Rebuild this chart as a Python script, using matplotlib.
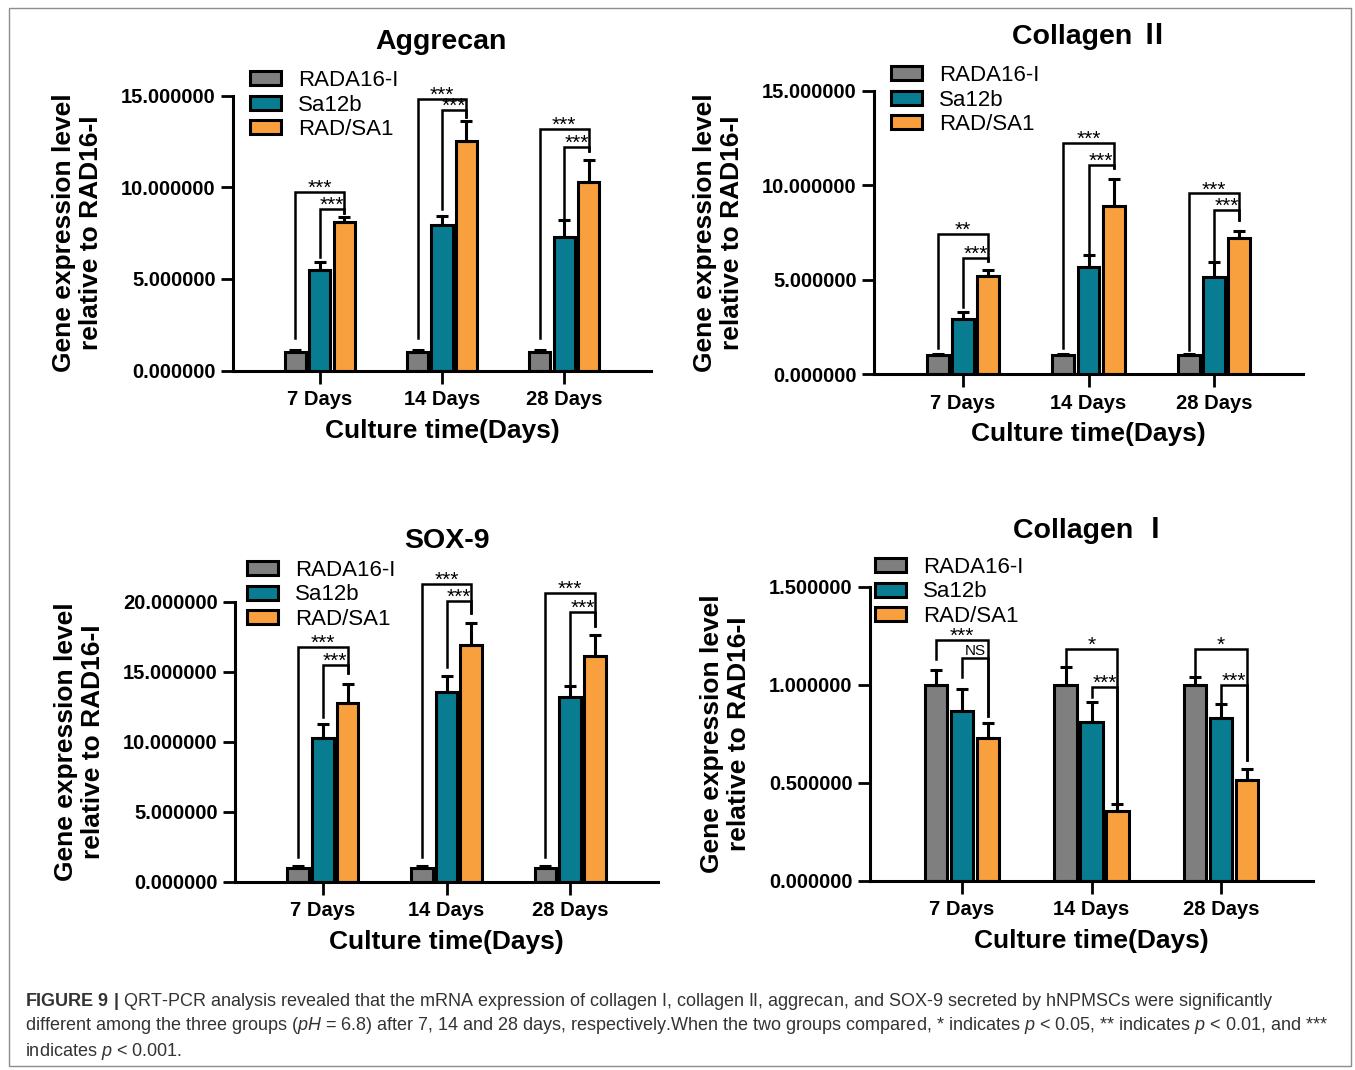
import matplotlib
matplotlib.use('Agg')
import matplotlib.pyplot as plt
import numpy as np
from matplotlib.patches import Rectangle

plt.rcParams['font.family'] = ['Liberation Sans', 'Noto Sans CJK SC', 'DejaVu Sans']
plt.rcParams['mathtext.fontset'] = 'custom'
plt.rcParams['mathtext.rm'] = 'Liberation Sans'
plt.rcParams['mathtext.it'] = 'Liberation Sans:italic'
plt.rcParams['mathtext.bf'] = 'Liberation Sans:bold'

W, H, DPI = 1355, 1070, 100

# ---------------- data ----------------
days = ['7 Days', '14 Days', '28 Days']
groups = ['RADA16-I', 'Sa12b', 'RAD/SA1']
colors = ['#7f7f7f', '#087c91', '#f8a03d']

# Aggrecan
agg_rada = [1.0, 1.0, 1.0]
agg_rada_err = [0.1, 0.1, 0.1]
agg_sa = [5.5, 7.95, 7.3]
agg_sa_err = [0.4, 0.5, 0.9]
agg_rs = [8.1, 12.5, 10.3]
agg_rs_err = [0.3, 1.1, 1.2]

# Collagen II
col2_rada = [1.0, 1.0, 1.0]
col2_rada_err = [0.08, 0.08, 0.08]
col2_sa = [2.95, 5.7, 5.15]
col2_sa_err = [0.35, 0.6, 0.8]
col2_rs = [5.2, 8.9, 7.2]
col2_rs_err = [0.3, 1.45, 0.4]

# SOX-9
sox_rada = [1.0, 1.0, 1.0]
sox_rada_err = [0.12, 0.15, 0.1]
sox_sa = [10.3, 13.55, 13.2]
sox_sa_err = [0.95, 1.15, 0.8]
sox_rs = [12.8, 16.9, 16.1]
sox_rs_err = [1.3, 1.6, 1.5]

# Collagen I
col1_rada = [1.0, 1.0, 1.0]
col1_rada_err = [0.075, 0.09, 0.04]
col1_sa = [0.865, 0.81, 0.83]
col1_sa_err = [0.115, 0.1, 0.07]
col1_rs = [0.73, 0.355, 0.515]
col1_rs_err = [0.075, 0.035, 0.055]

# significance brackets: (day, bar_a, bar_b, top, left_bottom, right_bottom, label)
agg_sig = [(0, 0, 2, 9.73, 1.75, 8.6, '***'), (0, 1, 2, 8.8, 6.2, 8.6, '***'),
           (1, 0, 2, 14.8, 1.75, 13.85, '***'), (1, 1, 2, 14.2, 8.83, 13.85, '***'),
           (2, 0, 2, 13.2, 1.75, 12.0, '***'), (2, 1, 2, 12.2, 8.1, 12.0, '***')]
col2_sig = [(0, 0, 2, 7.42, 1.37, 6.0, '**'), (0, 1, 2, 6.17, 3.58, 6.0, '***'),
            (1, 0, 2, 12.25, 1.37, 10.9, '***'), (1, 1, 2, 11.07, 6.4, 10.9, '***'),
            (2, 0, 2, 9.57, 1.3, 8.16, '***'), (2, 1, 2, 8.69, 6.05, 8.16, '***')]
sox_sig = [(0, 0, 2, 16.8, 1.79, 14.9, '***'), (0, 1, 2, 15.5, 11.8, 14.9, '***'),
           (1, 0, 2, 21.3, 1.79, 19.2, '***'), (1, 1, 2, 20.07, 15.36, 19.2, '***'),
           (2, 0, 2, 20.65, 1.79, 18.3, '***'), (2, 1, 2, 19.3, 13.45, 18.3, '***')]
col1_sig = [(0, 0, 2, 1.23, 1.13, 0.84, '***'), (0, 1, 2, 1.137, 1.04, 0.84, 'NS'),
            (1, 0, 2, 1.183, 1.09, 0.395, '*'), (1, 1, 2, 0.99, 0.937, 0.395, '***'),
            (2, 0, 2, 1.183, 1.047, 0.615, '*'), (2, 1, 2, 1.0, 0.903, 0.615, '***')]

panels = [
    dict(title='Aggrecan', vals=[agg_rada, agg_sa, agg_rs], errs=[agg_rada_err, agg_sa_err, agg_rs_err],
         sig=agg_sig, ymax=15, yticks=[0, 5, 10, 15],
         rect=(233, 651, 95.5, 370.5), title_xy=(441, 42), leg_xy=(250, 105)),
    dict(title='Collagen Ⅱ', vals=[col2_rada, col2_sa, col2_rs], errs=[col2_rada_err, col2_sa_err, col2_rs_err],
         sig=col2_sig, ymax=15, yticks=[0, 5, 10, 15],
         rect=(874, 1303, 90.7, 374.3), title_xy=(1090, 37), leg_xy=(891, 100)),
    dict(title='SOX-9', vals=[sox_rada, sox_sa, sox_rs], errs=[sox_rada_err, sox_sa_err, sox_rs_err],
         sig=sox_sig, ymax=20, yticks=[0, 5, 10, 15, 20],
         rect=(235, 658, 601.7, 881.7), title_xy=(447, 541), leg_xy=(247, 595)),
    dict(title='Collagen Ⅰ', vals=[col1_rada, col1_sa, col1_rs], errs=[col1_rada_err, col1_sa_err, col1_rs_err],
         sig=col1_sig, ymax=1.5, yticks=[0, 0.5, 1.0, 1.5],
         rect=(870, 1313, 586.7, 881), title_xy=(1091, 531), leg_xy=(875, 592)),
]

fig = plt.figure(figsize=(W / DPI, H / DPI), dpi=DPI)

offsets = [-0.2, 0.0, 0.2]
bw = 0.175
x = np.arange(len(days))

for p in panels:
    x0, x1, yt, yb = p['rect']
    ax = fig.add_axes([x0 / W, 1 - yb / H, (x1 - x0) / W, (yb - yt) / H])
    handles = []
    for k in range(3):
        b = ax.bar(x + offsets[k], p['vals'][k], width=bw, color=colors[k], edgecolor='black',
                   linewidth=2.2, zorder=2, label=groups[k])
        handles.append(b)
        ax.errorbar(x + offsets[k], p['vals'][k], yerr=[np.zeros(3), p['errs'][k]], fmt='none',
                    ecolor='black', elinewidth=2.2, capsize=4, capthick=2.2, zorder=3)
    for (d, a, bb, top, lb, rb, lab) in p['sig']:
        xa = d + offsets[a]
        xb = d + offsets[bb]
        ax.plot([xa, xa, xb, xb], [lb, top, top, rb], color='black', lw=1.8, clip_on=False,
                solid_joinstyle='miter', zorder=4)
        if lab == 'NS':
            ax.annotate(lab, xy=((xa + xb) / 2, top), xytext=(0, 2), textcoords='offset points',
                        ha='center', va='baseline', fontsize=11, annotation_clip=False)
        else:
            ax.annotate(lab, xy=((xa + xb) / 2, top), xytext=(0, -1.5), textcoords='offset points',
                        ha='center', va='baseline', fontsize=15, annotation_clip=False)
    ax.set_xlim(-0.71, 2.71)
    ax.set_ylim(0, p['ymax'])
    ax.set_xticks(x)
    ax.set_xticklabels(days)
    ax.set_yticks(p['yticks'])
    ax.set_yticklabels(['%.6f' % v for v in p['yticks']])
    for s in ['top', 'right']:
        ax.spines[s].set_visible(False)
    for s in ['left', 'bottom']:
        ax.spines[s].set_linewidth(2.2)
    ax.tick_params(axis='both', direction='out', length=9, width=2, labelsize=14.5, pad=3.5)
    ax.tick_params(axis='x', pad=5)
    for t in ax.get_xticklabels() + ax.get_yticklabels():
        t.set_fontweight('bold')
    ax.set_xlabel('Culture time(Days)', fontsize=19, fontweight='bold', labelpad=7)
    ax.set_ylabel('Gene expression level\nrelative to RAD16-I', fontsize=19, fontweight='bold',
                  labelpad=13, linespacing=1.15)
    fig.text(p['title_xy'][0] / W, 1 - p['title_xy'][1] / H, p['title'], fontsize=20.5,
             fontweight='bold', ha='center', va='center')
    ax.legend(handles=handles, labels=groups, loc='center left',
              bbox_to_anchor=(p['leg_xy'][0] / W, 1 - p['leg_xy'][1] / H), bbox_transform=fig.transFigure,
              frameon=False, fontsize=16, handlelength=1.4, handleheight=0.6, handletextpad=0.75,
              labelspacing=0.15, borderpad=0, borderaxespad=0)

# border
fig.add_artist(Rectangle((9 / W, 1 - 1066 / H), (1351 - 9) / W, (1066 - 8) / H, transform=fig.transFigure,
                         fill=False, edgecolor='#8c8c8c', lw=1))

cap1 = r"$\bf{FIGURE\ 9\ |}$ QRT-PCR analysis revealed that the mRNA expression of collagen I, collagen II, aggrecan, and SOX-9 secreted by hNPMSCs were significantly"
cap2 = r"different among the three groups ($\it{pH}$ = 6.8) after 7, 14 and 28 days, respectively.When the two groups compared, * indicates $\it{p}$ < 0.05, ** indicates $\it{p}$ < 0.01, and ***"
cap3 = r"indicates $\it{p}$ < 0.001."
for i, c in enumerate([cap1, cap2, cap3]):
    fig.text(25 / W, 1 - (1001 + 25 * i) / H, c, fontsize=13, color='#333333', va='center', ha='left',
             family=['Liberation Sans Narrow', 'Liberation Sans'])

fig.savefig('out.png', dpi=DPI)
